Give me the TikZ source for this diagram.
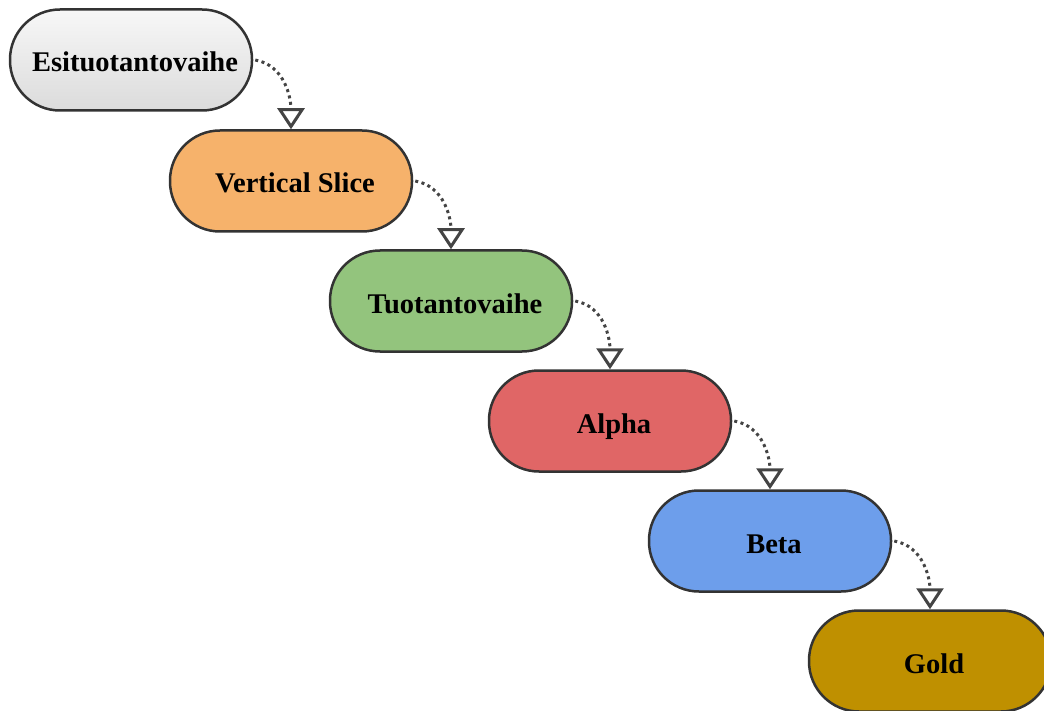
\documentclass[tikz,border=0pt]{standalone}
\usepackage{fontspec}
\setmainfont{Liberation Serif}
\usetikzlibrary{arrows.meta}
\definecolor{edgec}{HTML}{333333}
\definecolor{arrc}{HTML}{444444}
\definecolor{cOrange}{HTML}{F6B26B}
\definecolor{cGreen}{HTML}{93C47D}
\definecolor{cRed}{HTML}{E06666}
\definecolor{cBlue}{HTML}{6D9EEB}
\definecolor{cGold}{HTML}{BF9000}
\newcommand{\plabel}[1]{\hspace*{8pt}#1}
\tikzset{
  phase/.style={draw=edgec, line width=2.5pt, rectangle, rounded corners=50pt,
    minimum width=242pt, minimum height=101pt, inner sep=0pt,
    text height=24pt, text depth=0pt,
    font=\fontsize{28.5}{32}\selectfont\bfseries, text=black},
  conn/.style={draw=arrc, line width=3pt, dash pattern=on 3pt off 3.5pt,
    -{Triangle[open, width=27pt, length=21pt, line width=3pt]}}
}
\begin{document}
\begin{tikzpicture}[x=1pt,y=-1pt]
\useasboundingbox (0,0) rectangle (1044,711);
\begin{scope}
\clip (0,0) rectangle (1044,711);
\node[phase, top color=white!97!black, bottom color=white!86!black] (n1) at (131,60) {\plabel{Esituotantovaihe}};
\node[phase, fill=cOrange] (n2) at (291,181) {\plabel{Vertical Slice}};
\node[phase, fill=cGreen] (n3) at (451,301) {\plabel{Tuotantovaihe}};
\node[phase, fill=cRed] (n4) at (610,421) {\plabel{Alpha}};
\node[phase, fill=cBlue] (n5) at (770,541) {\plabel{Beta}};
\node[phase, fill=cGold] (n6) at (930,661) {\plabel{Gold}};
\draw[conn] ([xshift=2pt]n1.east) to[out=-10,in=90] (n2.north);
\draw[conn] ([xshift=2pt]n2.east) to[out=-10,in=90] (n3.north);
\draw[conn] ([xshift=2pt]n3.east) to[out=-10,in=90] (n4.north);
\draw[conn] ([xshift=2pt]n4.east) to[out=-10,in=90] (n5.north);
\draw[conn] ([xshift=2pt]n5.east) to[out=-10,in=90] (n6.north);
\end{scope}
\end{tikzpicture}
\end{document}
